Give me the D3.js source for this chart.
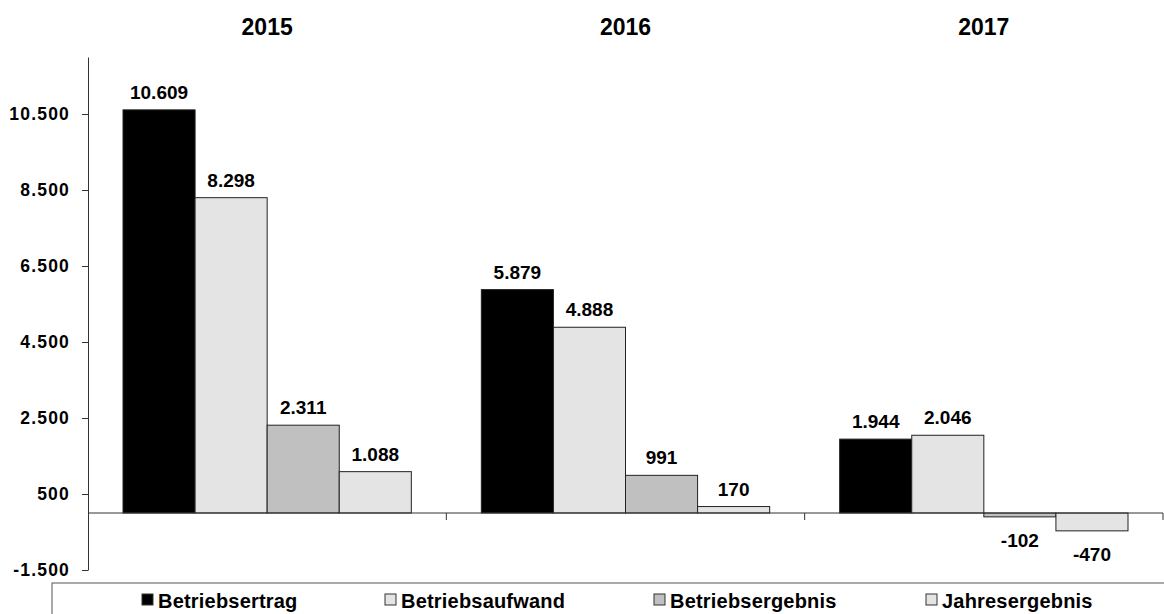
<!DOCTYPE html>
<html>
<head>
<meta charset="utf-8">
<script src="https://cdn.jsdelivr.net/npm/d3@7/dist/d3.min.js"></script>
<style>
  html, body { margin: 0; padding: 0; background: #fff; }
  svg { display: block; font-family: "Liberation Sans", Arial, sans-serif; }
</style>
</head>
<body>
<svg id="chart" width="1164" height="614"></svg>
<script>
// ---- data ----
const categories = ["2015", "2016", "2017"];
const seriesNames = ["Betriebsertrag", "Betriebsaufwand", "Betriebsergebnis", "Jahresergebnis"];
const betriebsertrag   = [10609, 5879, 1944];
const betriebsaufwand  = [8298, 4888, 2046];
const betriebsergebnis = [2311, 991, -102];
const jahresergebnis   = [1088, 170, -470];
const yTicks = [-1500, 500, 2500, 4500, 6500, 8500, 10500];
const yDomain = [-1500, 12000];

// ---- styles ----
const seriesColors = ["#000000", "#e4e4e4", "#c0c0c0", "#e4e4e4"];
const seriesValues = [betriebsertrag, betriebsaufwand, betriebsergebnis, jahresergebnis];

const svg = d3.select("#chart");
const locale = d3.formatLocale({decimal: ",", thousands: ".", grouping: [3], currency: ["", "€"], minus: "-"});
const fmt = locale.format(",");

const M = {left: 88, right: 1163, top: 57, bottom: 570};
const y = d3.scaleLinear().domain(yDomain).range([M.bottom, M.top]);
const x = d3.scaleBand().domain(categories).range([M.left, M.right]).padding(0);
const xs = d3.scaleBand().domain(seriesNames).range([35, x.bandwidth() - 35]).padding(0);

// bars
const rows = [];
categories.forEach((c, ci) => {
  seriesNames.forEach((s, si) => {
    rows.push({cat: c, series: s, value: seriesValues[si][ci], color: seriesColors[si]});
  });
});

svg.append("g").selectAll("rect").data(rows).join("rect")
  .attr("x", d => x(d.cat) + xs(d.series))
  .attr("width", xs.bandwidth())
  .attr("y", d => Math.min(y(d.value), y(0)))
  .attr("height", d => Math.abs(y(d.value) - y(0)))
  .attr("fill", d => d.color)
  .attr("stroke", "#222")
  .attr("stroke-width", 1);

// value labels
svg.append("g").selectAll("text").data(rows).join("text")
  .attr("x", d => x(d.cat) + xs(d.series) + xs.bandwidth() / 2)
  .attr("y", d => d.value >= 0 ? y(d.value) - 11 : y(d.value) + 30)
  .attr("text-anchor", "middle")
  .attr("font-size", "19px")
  .attr("font-weight", "bold")
  .attr("fill", "#000")
  .text(d => fmt(d.value));

// y axis
const yAxis = d3.axisLeft(y).tickValues(yTicks).tickFormat(fmt).tickSize(6).tickSizeOuter(0);
const gy = svg.append("g").attr("transform", `translate(${M.left},0)`).call(yAxis);
gy.select(".domain").attr("stroke", "#333");
gy.selectAll(".tick line").attr("stroke", "#333");
gy.selectAll(".tick text")
  .attr("x", -18)
  .attr("font-size", "17.5px")
  .attr("font-weight", "bold")
  .attr("letter-spacing", "1.2px")
  .attr("fill", "#000")
  .attr("font-family", "'Liberation Sans', Arial, sans-serif");

// zero line with category ticks
svg.append("line")
  .attr("x1", M.left).attr("x2", M.right)
  .attr("y1", y(0)).attr("y2", y(0))
  .attr("stroke", "#333");
svg.append("g").selectAll("line").data(categories).join("line")
  .attr("x1", d => x(d) + x.bandwidth()).attr("x2", d => x(d) + x.bandwidth())
  .attr("y1", y(0)).attr("y2", y(0) + 7)
  .attr("stroke", "#333");

// category labels on top
svg.append("g").selectAll("text").data(categories).join("text")
  .attr("x", d => x(d) + x.bandwidth() / 2)
  .attr("y", 35)
  .attr("text-anchor", "middle")
  .attr("font-size", "23px")
  .attr("font-weight", "bold")
  .attr("fill", "#000")
  .text(d => d);

// legend
const legendBox = {x: 52, y: 583};
svg.append("rect")
  .attr("x", legendBox.x).attr("y", legendBox.y)
  .attr("width", 1200).attr("height", 100)
  .attr("fill", "none").attr("stroke", "#555");
const legendX = [142, 385, 654, 926];
const lg = svg.append("g").selectAll("g").data(seriesNames).join("g")
  .attr("transform", (d, i) => `translate(${legendX[i]},594)`);
lg.append("rect")
  .attr("width", 11).attr("height", 11)
  .attr("fill", (d, i) => seriesColors[i])
  .attr("stroke", "#333");
lg.append("text")
  .attr("x", 16).attr("y", 14)
  .attr("font-size", "20px")
  .attr("font-weight", "bold")
  .attr("letter-spacing", "0.2px")
  .attr("fill", "#000")
  .text(d => d);
</script>
</body>
</html>
